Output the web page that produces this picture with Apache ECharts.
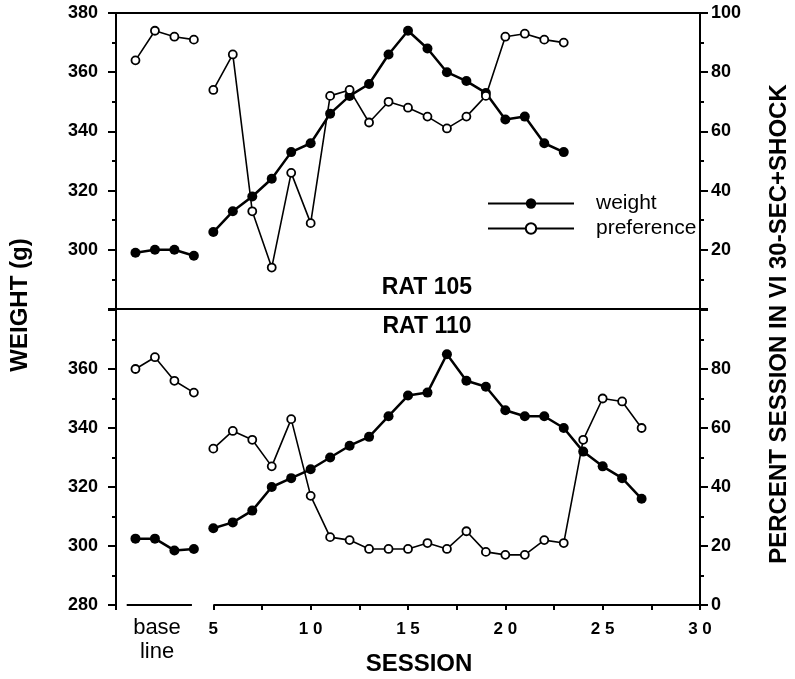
<!DOCTYPE html>
<html>
<head>
<meta charset="utf-8">
<script src="https://cdn.jsdelivr.net/npm/echarts@6/dist/echarts.min.js"></script>
<style>
html,body{margin:0;padding:0;background:#fff;}
#chart{width:795px;height:679px;}
</style>
</head>
<body>
<div id="chart"></div>
<script>
// ---- data ----
const baselineSessions = [1, 2, 3, 4];
const r105Sessions = [5, 6, 7, 8, 9, 10, 11, 12, 13, 14, 15, 16, 17, 18, 19, 20, 21, 22, 23];
const r110Sessions = [5, 6, 7, 8, 9, 10, 11, 12, 13, 14, 15, 16, 17, 18, 19, 20, 21, 22, 23, 24, 25, 26, 27];

const r105WeightBase = [299, 300, 300, 298];
const r105PrefBase = [84, 94, 92, 91];
const r105Weight = [306, 313, 318, 324, 333, 336, 346, 352, 356, 366, 374, 368, 360, 357, 353, 344, 345, 336, 333];
const r105Pref = [74, 86, 33, 14, 46, 29, 72, 74, 63, 70, 68, 65, 61, 65, 72, 92, 93, 91, 90];

const r110WeightBase = [302.5, 302.5, 298.5, 299];
const r110PrefBase = [80, 84, 76, 72];
const r110Weight = [306, 308, 312, 320, 323, 326, 330, 334, 337, 344, 351, 352, 365, 356, 354, 346, 344, 344, 340, 332, 327, 323, 316];
const r110Pref = [53, 59, 56, 47, 63, 37, 23, 22, 19, 19, 19, 21, 19, 25, 18, 17, 17, 22, 21, 56, 70, 69, 60];

const xTicks = [0, 5, 7.5, 10, 12.5, 15, 17.5, 20, 22.5, 25, 27.5, 30];

// ---- helpers ----
const FONT = '"Liberation Sans", Arial, Helvetica, sans-serif';
const pair = (xs, ys) => xs.map((x, i) => [x, ys[i]]);

const weightStyle = {
  type: 'line', name: 'weight', symbol: 'circle', symbolSize: 10,
  lineStyle: { color: '#000', width: 2.5 },
  itemStyle: { color: '#000', borderColor: '#000', borderWidth: 0 },
  z: 3, animation: false, silent: true
};
const prefStyle = {
  type: 'line', name: 'preference', symbol: 'circle', symbolSize: 8,
  lineStyle: { color: '#000', width: 1.6 },
  itemStyle: { color: '#fff', borderColor: '#000', borderWidth: 1.8 },
  z: 4, animation: false, silent: true
};

const sepLine = (segments) => ({
  silent: true, symbol: ['none', 'none'], animation: false,
  label: { show: false },
  lineStyle: { color: '#000', width: 2, type: 'solid' },
  emphasis: { disabled: true },
  data: segments
});

function yAxisDef(gridIndex, min, max, pos, hideVal) {
  return {
    type: 'value', gridIndex, min, max, interval: 20, position: pos,
    axisLine: { show: true, onZero: false, lineStyle: { color: '#000', width: 2 } },
    axisTick: { show: true, length: 8, lineStyle: { color: '#000', width: 2 } },
    minorTick: { show: true, splitNumber: 2, length: 4, lineStyle: { color: '#000', width: 2 } },
    splitLine: { show: false },
    axisLabel: {
      color: '#000', fontFamily: FONT, fontWeight: 'bold', fontSize: 18,
      margin: pos === 'left' ? 18 : 11,
      formatter: v => (v === hideVal ? '' : String(v))
    }
  };
}

const option = {
  backgroundColor: '#fff',
  animation: false,
  grid: [
    { left: 116, right: 95, top: 13, height: 296, show: true, backgroundColor: 'transparent',
      borderColor: '#000', borderWidth: 2, z: 10 },
    { left: 116, right: 95, top: 310, height: 295 }
  ],
  xAxis: [
    { type: 'value', gridIndex: 0, min: 0, max: 30, position: 'top',
      axisLine: { show: true, onZero: false, lineStyle: { color: '#000', width: 2 } },
      axisTick: { show: false }, axisLabel: { show: false }, splitLine: { show: false } },
    { type: 'value', gridIndex: 1, min: 0, max: 30, interval: 5, position: 'bottom',
      axisLine: { show: false, onZero: false },
      axisTick: { show: true, customValues: xTicks, length: 5, lineStyle: { color: '#000', width: 2 } },
      axisLabel: { show: true, color: '#000', fontFamily: FONT, fontWeight: 'bold', fontSize: 17, margin: 16,
        formatter: v => (v === 0 ? '' : String(v).split('').join(' ')) },
      splitLine: { show: false } }
  ],
  yAxis: [
    yAxisDef(0, 280, 380, 'left', 280),
    yAxisDef(0, 0, 100, 'right', 0),
    yAxisDef(1, 280, 380, 'left', 380),
    yAxisDef(1, 0, 100, 'right', 100)
  ],
  legend: {
    orient: 'vertical', left: 482, top: 188, itemWidth: 86, itemHeight: 13, itemGap: 4,
    data: ['weight', 'preference'],
    textStyle: { color: '#000', fontFamily: FONT, fontSize: 21, padding: [0, 0, 0, 17] },
    selectedMode: false
  },
  graphic: [
    { type: 'text', x: 20, y: 305, rotation: Math.PI / 2,
      style: { text: 'WEIGHT (g)', fill: '#000', font: 'bold 24px ' + FONT, textAlign: 'center', textVerticalAlign: 'middle' } },
    { type: 'text', x: 779, y: 324, rotation: Math.PI / 2,
      style: { text: 'PERCENT SESSION IN VI 30-SEC+SHOCK', fill: '#000', font: 'bold 24px ' + FONT, textAlign: 'center', textVerticalAlign: 'middle' } },
    { type: 'text', x: 419, y: 664,
      style: { text: 'SESSION', fill: '#000', font: 'bold 24px ' + FONT, textAlign: 'center', textVerticalAlign: 'middle' } },
    { type: 'text', x: 157, y: 628,
      style: { text: 'base', fill: '#000', font: '22px ' + FONT, textAlign: 'center', textVerticalAlign: 'middle' } },
    { type: 'text', x: 157, y: 652,
      style: { text: 'line', fill: '#000', font: '22px ' + FONT, textAlign: 'center', textVerticalAlign: 'middle' } },
    { type: 'text', x: 427, y: 288,
      style: { text: 'RAT 105', fill: '#000', font: 'bold 23px ' + FONT, textAlign: 'center', textVerticalAlign: 'middle' } },
    { type: 'text', x: 427, y: 327,
      style: { text: 'RAT 110', fill: '#000', font: 'bold 23px ' + FONT, textAlign: 'center', textVerticalAlign: 'middle' } }
  ],
  series: [
    // RAT 105 (top)
    Object.assign({}, weightStyle, { xAxisIndex: 0, yAxisIndex: 0, clip: false, data: pair(baselineSessions, r105WeightBase),
      markLine: sepLine([
        [{ coord: [0.55, 280] }, { coord: [4.4, 280] }],
        [{ coord: [5.2, 280] }, { coord: [30, 280] }]
      ]) }),
    Object.assign({}, weightStyle, { xAxisIndex: 0, yAxisIndex: 0, data: pair(r105Sessions, r105Weight) }),
    Object.assign({}, prefStyle, { xAxisIndex: 0, yAxisIndex: 1, data: pair(baselineSessions, r105PrefBase) }),
    Object.assign({}, prefStyle, { xAxisIndex: 0, yAxisIndex: 1, data: pair(r105Sessions, r105Pref) }),
    // RAT 110 (bottom)
    Object.assign({}, weightStyle, { xAxisIndex: 1, yAxisIndex: 2, clip: false, data: pair(baselineSessions, r110WeightBase),
      markLine: sepLine([
        [{ coord: [0.55, 280] }, { coord: [3.9, 280] }],
        [{ coord: [5, 280] }, { coord: [30, 280] }]
      ]) }),
    Object.assign({}, weightStyle, { xAxisIndex: 1, yAxisIndex: 2, data: pair(r110Sessions, r110Weight) }),
    Object.assign({}, prefStyle, { xAxisIndex: 1, yAxisIndex: 3, data: pair(baselineSessions, r110PrefBase) }),
    Object.assign({}, prefStyle, { xAxisIndex: 1, yAxisIndex: 3, data: pair(r110Sessions, r110Pref) })
  ]
};

const chart = echarts.init(document.getElementById('chart'), null, { renderer: 'canvas' });
chart.setOption(option);
</script>
</body>
</html>
